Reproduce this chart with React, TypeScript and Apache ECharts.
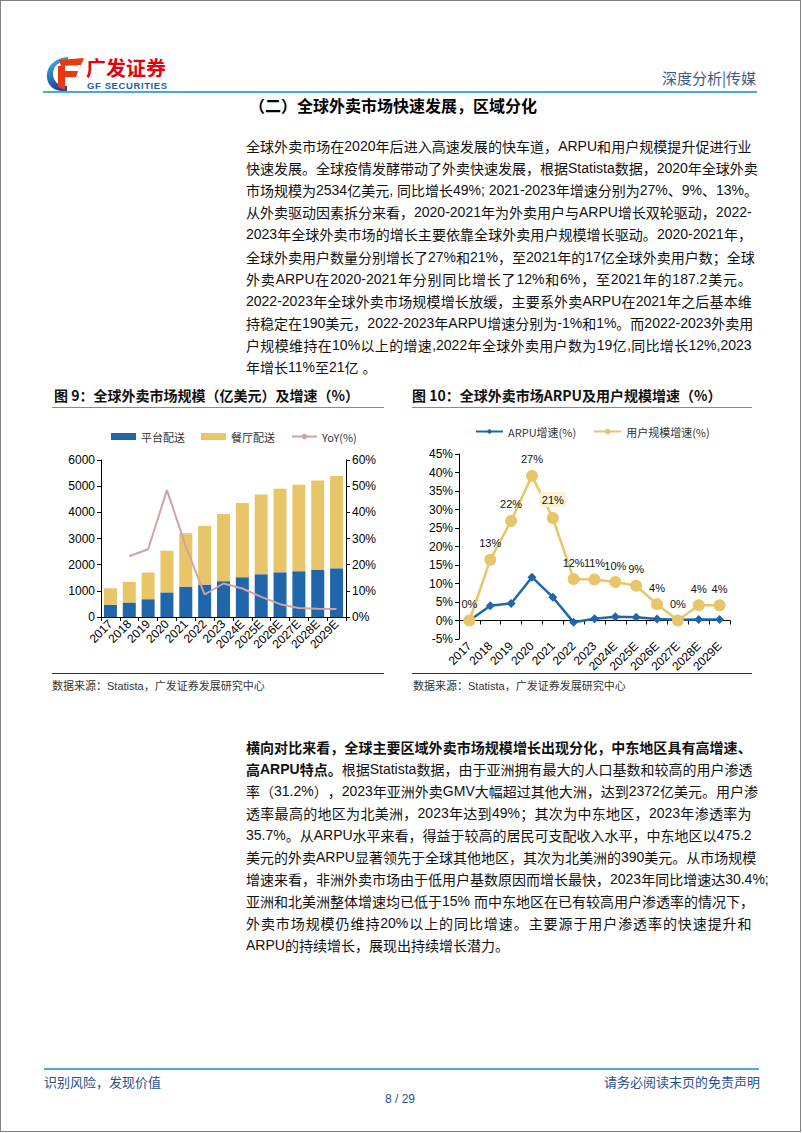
import React, { useEffect, useRef } from "react";
import * as echarts from "echarts";

// ---------- data ----------
const years = ["2017", "2018", "2019", "2020", "2021", "2022", "2023", "2024E", "2025E", "2026E", "2027E", "2028E", "2029E"];
// Fig 9: global delivery market size (100M USD) and YoY (%)
const platformDelivery = [470, 550, 680, 940, 1160, 1240, 1370, 1520, 1630, 1710, 1750, 1800, 1860];
const restaurantDelivery = [630, 790, 1020, 1594, 2044, 2245, 2562, 2833, 3055, 3192, 3305, 3421, 3527];
const marketYoY = [null, 23.2, 25.9, 48.5, 27, 8.6, 12.8, 10.9, 7.7, 4.9, 3.4, 3.2, 3.1];
// Fig 10: ARPU growth and user growth (%)
const arpuGrowth = [0, 4.0, 4.6, 11.7, 6.3, -0.5, 0.5, 1.0, 0.9, 0.4, 0.2, 0.3, 0.3];
const userGrowth = [0, 16.4, 26.9, 39.1, 27.7, 11.2, 11.1, 10.4, 9.4, 4.4, 0, 4.1, 4.1];
const userGrowthLabels = ["0%", "13%", "22%", "27%", "21%", "12%", "11%", "10%", "9%", "4%", "0%", "4%", "4%"];
const highlightedLabelIndex = 4;

const para1Lines = [
  "全球外卖市场在2020年后进入高速发展的快车道，ARPU和用户规模提升促进行业",
  "快速发展。全球疫情发酵带动了外卖快速发展，根据Statista数据，2020年全球外卖",
  "市场规模为2534亿美元, 同比增长49%; 2021-2023年增速分别为27%、9%、13%。",
  "从外卖驱动因素拆分来看，2020-2021年为外卖用户与ARPU增长双轮驱动，2022-",
  "2023年全球外卖市场的增长主要依靠全球外卖用户规模增长驱动。2020-2021年，",
  "全球外卖用户数量分别增长了27%和21%，至2021年的17亿全球外卖用户数；全球",
  "外卖ARPU在2020-2021年分别同比增长了12%和6%，至2021年的187.2美元。",
  "2022-2023年全球外卖市场规模增长放缓，主要系外卖ARPU在2021年之后基本维",
  "持稳定在190美元，2022-2023年ARPU增速分别为-1%和1%。而2022-2023外卖用",
  "户规模维持在10%以上的增速,2022年全球外卖用户数为19亿,同比增长12%,2023",
  "年增长11%至21亿 。",
];

type Piece = [string, boolean];
const para2Lines: Piece[][] = [
  [["横向对比来看，全球主要区域外卖市场规模增长出现分化，中东地区具有高增速、", true]],
  [["高ARPU特点。", true], ["根据Statista数据，由于亚洲拥有最大的人口基数和较高的用户渗透", false]],
  [["率（31.2%），2023年亚洲外卖GMV大幅超过其他大洲，达到2372亿美元。用户渗", false]],
  [["透率最高的地区为北美洲，2023年达到49%；其次为中东地区，2023年渗透率为", false]],
  [["35.7%。从ARPU水平来看，得益于较高的居民可支配收入水平，中东地区以475.2", false]],
  [["美元的外卖ARPU显著领先于全球其他地区，其次为北美洲的390美元。从市场规模", false]],
  [["增速来看，非洲外卖市场由于低用户基数原因而增长最快，2023年同比增速达30.4%;", false]],
  [["亚洲和北美洲整体增速均已低于15% 而中东地区在已有较高用户渗透率的情况下，", false]],
  [["外卖市场规模仍维持20%以上的同比增速。主要源于用户渗透率的快速提升和", false]],
  [["ARPU的持续增长，展现出持续增长潜力。", false]],
];

// ---------- styles ----------
const axisFont = "'Liberation Sans', Arial, sans-serif";
const cjkFont = "'Noto Sans CJK SC', 'Liberation Sans', sans-serif";
const bodyFont = "'Liberation Sans Narrow', 'Liberation Sans', 'Noto Sans CJK SC', sans-serif";
const BLUE = "#1F67AA";
const YELLOW = "#E7C568";
const ROSE = "#CFA3A3";
const HEADER_BLUE = "#49AAD8";
const FOOT_TEXT = "#2A4F8C";

const tokenRe = /[\u2E80-\u9FFF\uF900-\uFAFF\uFE30-\uFE4F\uFF00-\uFFEF]|[^\u2E80-\u9FFF\uF900-\uFAFF\uFE30-\uFE4F\uFF00-\uFFEF]+/g;

function JLine({ pieces, last, top }: { pieces: Piece[]; last: boolean; top: number }) {
  const tokens: { t: string; b: boolean }[] = [];
  pieces.forEach(([txt, b]) => (txt.match(tokenRe) || []).forEach((t) => tokens.push({ t, b })));
  return (
    <div
      style={{
        position: "absolute",
        left: 246,
        top,
        width: 506,
        height: 22,
        display: "flex",
        justifyContent: last ? "flex-start" : "space-between",
        alignItems: "center",
        whiteSpace: "pre",
        fontSize: 14,
        color: "#111",
        fontFamily: bodyFont,
      }}
    >
      {tokens.map((tk, i) => (
        <span key={i} style={{ flexShrink: 0, fontWeight: tk.b ? 700 : 400 }}>
          {tk.t}
        </span>
      ))}
    </div>
  );
}

const abs = (s: React.CSSProperties): React.CSSProperties => ({ position: "absolute", ...s });

export default function App() {
  const ref = useRef<HTMLDivElement>(null);

  useEffect(() => {
    if (!ref.current) return;
    const chart = echarts.init(ref.current, null, { renderer: "svg" });
    const axisLine = { show: true, lineStyle: { color: "#000", width: 1 } };
    const axisTick = { show: true, length: 4, lineStyle: { color: "#000" } };
    const yLabel = { fontSize: 12, color: "#000", fontFamily: axisFont, margin: 6 };
    const xLabel = { fontSize: 12, color: "#000", fontFamily: axisFont, rotate: 45, interval: 0, margin: 5 };
    const legendText = { fontSize: 11, color: "#333", fontFamily: cjkFont };

    chart.setOption({
      animation: false,
      backgroundColor: "transparent",
      legend: [
        {
          left: 106,
          top: 426,
          itemWidth: 25,
          itemHeight: 7,
          itemGap: 16,
          selectedMode: false,
          textStyle: legendText,
          data: [
            { name: "平台配送", icon: "rect" },
            { name: "餐厅配送", icon: "rect" },
            { name: "YoY(%)" },
          ],
        },
        {
          left: 470,
          top: 421,
          itemWidth: 27,
          itemHeight: 7,
          itemGap: 17,
          selectedMode: false,
          textStyle: legendText,
          data: ["ARPU增速(%)", "用户规模增速(%)"],
        },
      ],
      grid: [
        { left: 101, top: 460, width: 245, height: 157 },
        { left: 459, top: 454, width: 271, height: 185 },
      ],
      xAxis: [
        { type: "category", gridIndex: 0, data: years, axisLine, axisTick, axisLabel: xLabel },
        { type: "category", gridIndex: 1, data: years, axisLine: { ...axisLine, onZero: true }, axisTick, axisLabel: xLabel },
      ],
      yAxis: [
        {
          type: "value", gridIndex: 0, min: 0, max: 6000, interval: 1000,
          axisLine, axisTick, splitLine: { show: false },
          axisLabel: { ...yLabel, formatter: (v: number) => String(v) },
        },
        {
          type: "value", gridIndex: 0, position: "right", min: 0, max: 60, interval: 10,
          axisLine, axisTick, splitLine: { show: false }, axisLabel: { ...yLabel, formatter: "{value}%" },
        },
        {
          type: "value", gridIndex: 1, min: -5, max: 45, interval: 5,
          axisLine, axisTick, splitLine: { show: false }, axisLabel: { ...yLabel, formatter: "{value}%" },
        },
      ],
      series: [
        {
          name: "平台配送", type: "bar", stack: "size", xAxisIndex: 0, yAxisIndex: 0,
          barWidth: 13, itemStyle: { color: BLUE }, data: platformDelivery,
        },
        {
          name: "餐厅配送", type: "bar", stack: "size", xAxisIndex: 0, yAxisIndex: 0,
          barWidth: 13, itemStyle: { color: YELLOW }, data: restaurantDelivery,
        },
        {
          name: "YoY(%)", type: "line", xAxisIndex: 0, yAxisIndex: 1, symbol: "none",
          lineStyle: { color: ROSE, width: 2 }, itemStyle: { color: ROSE }, data: marketYoY,
        },
        {
          name: "ARPU增速(%)", type: "line", xAxisIndex: 1, yAxisIndex: 2,
          symbol: "diamond", symbolSize: 9,
          lineStyle: { color: BLUE, width: 2.5 }, itemStyle: { color: BLUE }, data: arpuGrowth,
        },
        {
          name: "用户规模增速(%)", type: "line", xAxisIndex: 1, yAxisIndex: 2,
          symbol: "circle", symbolSize: 12,
          lineStyle: { color: YELLOW, width: 2.5 }, itemStyle: { color: YELLOW },
          label: {
            show: true, position: "top", distance: 5, fontSize: 11, color: "#111", fontFamily: axisFont,
            formatter: (p: any) => userGrowthLabels[p.dataIndex],
          },
          data: userGrowth.map((v, i) =>
            i === highlightedLabelIndex
              ? { value: v, label: { backgroundColor: "#FBF2D6", padding: [2, 2] } }
              : v
          ),
        },
      ],
    });
    return () => chart.dispose();
  }, []);

  return (
    <div style={abs({ left: 0, top: 0, width: 802, height: 1133, background: "#fff", overflow: "hidden" })}>
      <div ref={ref} style={abs({ left: 0, top: 0, width: 802, height: 1133 })} />

      {/* page border */}
      <div style={abs({ left: 0, top: 0, width: 801, height: 1132, boxSizing: "border-box", border: "1px solid #808080", pointerEvents: "none" })} />

      {/* logo */}
      <svg style={abs({ left: 45, top: 56 })} width={40} height={36} viewBox="0 0 40 36">
        <defs>
          <linearGradient id="gfb" x1="0" y1="0" x2="0.3" y2="1">
            <stop offset="0" stopColor="#3DBDEB" />
            <stop offset="1" stopColor="#1646A3" />
          </linearGradient>
        </defs>
        <path d="M23 1 C9 2 1 11 2 22 C3 31 11 36 22 35 L22 30 C13 30 8 25 8 18 C8 10 14 5 23 5 Z" fill="url(#gfb)" />
        <path d="M14 4 L39 2 L36 9 L16 10 Z" fill="#E8380D" />
        <path d="M13 10 L20 10 L20 34 L13 31 Z" fill="#E8380D" />
        <path d="M20 15 L33 15 L31 21 L20 21 Z" fill="#E8380D" />
      </svg>
      <div style={abs({ left: 86, top: 57, fontSize: 20, fontWeight: 700, color: "#E60012", fontFamily: cjkFont, lineHeight: "22px", height: 22, whiteSpace: "nowrap" })}>
        广发证券
      </div>
      <div style={abs({ left: 87, top: 81, fontSize: 9.5, fontWeight: 700, color: "#1B5EA8", fontFamily: axisFont, lineHeight: "10px", height: 10, letterSpacing: 0.6, whiteSpace: "nowrap" })}>
        GF SECURITIES
      </div>
      <div style={abs({ left: 600, width: 156, top: 68, fontSize: 15, color: "#3A5A8E", fontFamily: cjkFont, lineHeight: "20px", textAlign: "right" })}>
        深度分析|传媒
      </div>
      <div style={abs({ left: 43, top: 91, width: 714, height: 2, background: HEADER_BLUE })} />

      {/* section title */}
      <div style={abs({ left: 249, top: 95, fontSize: 16, fontWeight: 700, color: "#000", fontFamily: cjkFont, lineHeight: "20px" })}>
        （二）全球外卖市场快速发展，区域分化
      </div>

      {/* paragraph 1 */}
      {para1Lines.map((l, i) => (
        <JLine key={"p1" + i} pieces={[[l, false]]} last={i === para1Lines.length - 1} top={135 + i * 22.1} />
      ))}

      {/* figure captions */}
      <div style={abs({ left: 54, top: 386, fontSize: 14, fontWeight: 700, color: "#111", fontFamily: cjkFont, lineHeight: "18px", whiteSpace: "nowrap" })}>
        图 9：全球外卖市场规模（亿美元）及增速（%）
      </div>
      <div style={abs({ left: 412, top: 386, fontSize: 14, fontWeight: 700, color: "#111", fontFamily: cjkFont, lineHeight: "18px", whiteSpace: "nowrap" })}>
        图 10：全球外卖市场ARPU及用户规模增速（%）
      </div>
      <div style={abs({ left: 52, top: 407, width: 332, height: 1, background: "#8a8a8a" })} />
      <div style={abs({ left: 412, top: 407, width: 340, height: 1, background: "#8a8a8a" })} />

      {/* sources */}
      <div style={abs({ left: 52, top: 673, width: 332, height: 1, background: "#333" })} />
      <div style={abs({ left: 412, top: 673, width: 340, height: 1, background: "#333" })} />
      <div style={abs({ left: 52, top: 679, fontSize: 11, color: "#333", fontFamily: bodyFont, lineHeight: "14px", whiteSpace: "nowrap" })}>
        数据来源：Statista，广发证券发展研究中心
      </div>
      <div style={abs({ left: 413, top: 679, fontSize: 11, color: "#333", fontFamily: bodyFont, lineHeight: "14px", whiteSpace: "nowrap" })}>
        数据来源：Statista，广发证券发展研究中心
      </div>

      {/* paragraph 2 */}
      {para2Lines.map((l, i) => (
        <JLine key={"p2" + i} pieces={l} last={i === para2Lines.length - 1} top={736 + i * 22} />
      ))}

      {/* footer */}
      <div style={abs({ left: 44, top: 1068, width: 715, height: 2, background: HEADER_BLUE })} />
      <div style={abs({ left: 44, top: 1074, fontSize: 13, color: FOOT_TEXT, fontFamily: cjkFont, lineHeight: "16px" })}>
        识别风险，发现价值
      </div>
      <div style={abs({ left: 560, width: 200, top: 1074, fontSize: 13, color: FOOT_TEXT, fontFamily: cjkFont, lineHeight: "16px", textAlign: "right" })}>
        请务必阅读末页的免责声明
      </div>
      <div style={abs({ left: 350, width: 100, top: 1091, fontSize: 12, color: FOOT_TEXT, fontFamily: bodyFont, lineHeight: "16px", textAlign: "center" })}>
        8 / 29
      </div>
    </div>
  );
}
